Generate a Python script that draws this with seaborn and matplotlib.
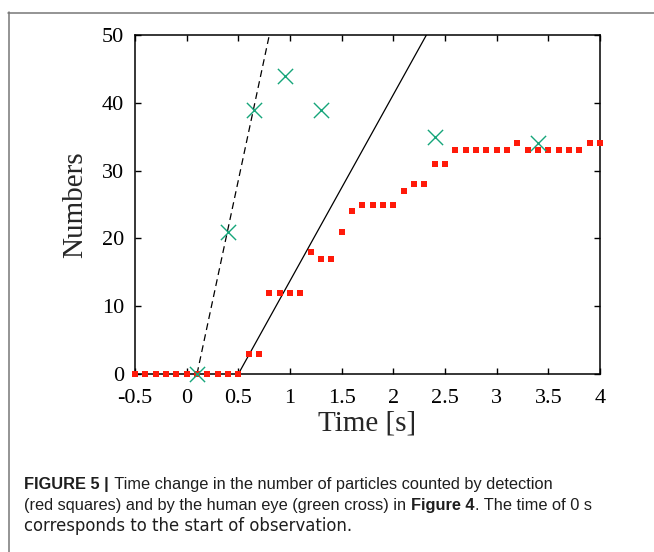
import matplotlib

matplotlib.use("Agg")
import matplotlib.pyplot as plt
import pandas as pd
import seaborn as sns
from matplotlib.lines import Line2D

# detection (red squares), one count every 0.1 s
det_time = [-0.5, -0.4, -0.3, -0.2, -0.1, 0.0, 0.1, 0.2, 0.3, 0.4, 0.5,
            0.6, 0.7, 0.8, 0.9, 1.0, 1.1, 1.2, 1.3, 1.4, 1.5, 1.6, 1.7,
            1.8, 1.9, 2.0, 2.1, 2.2, 2.3, 2.4, 2.5, 2.6, 2.7, 2.8, 2.9,
            3.0, 3.1, 3.2, 3.3, 3.4, 3.5, 3.6, 3.7, 3.8, 3.9, 4.0]
det_count = [0, 0, 0, 0, 0, 0, 0, 0, 0, 0, 0,
             3, 3, 12, 12, 12, 12, 18, 17, 17, 21, 24, 25,
             25, 25, 25, 27, 28, 28, 31, 31, 33, 33, 33, 33,
             33, 33, 34, 33, 33, 33, 33, 33, 33, 34, 34]

# human eye (green crosses)
eye_time = [0.1, 0.4, 0.65, 0.95, 1.3, 2.4, 3.4]
eye_count = [0, 21, 39, 44, 39, 35, 34]

# rise lines (dashed: eye, solid: detection)
eye_fit_time = [0.1, 0.8]
eye_fit_count = [0, 50]
det_fit_time = [0.5, 2.32]
det_fit_count = [0, 50]

x_ticks = [-0.5, 0, 0.5, 1, 1.5, 2, 2.5, 3, 3.5, 4]
x_ticklabels = ["-0.5", "0", "0.5", "1", "1.5", "2", "2.5", "3", "3.5", "4"]
y_ticks = [0, 10, 20, 30, 40, 50]

RED = "#ff1a0a"
GREEN = "#16a57a"

sns.set_theme(style="ticks")
plt.rcParams["font.family"] = ["Liberation Serif", "DejaVu Serif"]

fig = plt.figure(figsize=(6.54, 5.52), dpi=100)
ax = fig.add_axes([135 / 654, 1 - 374 / 552, 465 / 654, 339 / 552])

det = pd.DataFrame({"t": det_time, "n": det_count})
eye = pd.DataFrame({"t": eye_time, "n": eye_count})
eye_fit = pd.DataFrame({"t": eye_fit_time, "n": eye_fit_count})
det_fit = pd.DataFrame({"t": det_fit_time, "n": det_fit_count})

sns.lineplot(data=eye_fit, x="t", y="n", color="black", linewidth=0.9,
             linestyle=(0, (5.5, 3.5)), ax=ax, zorder=2)
sns.lineplot(data=det_fit, x="t", y="n", color="black", linewidth=0.9,
             ax=ax, zorder=2)
sns.scatterplot(data=det, x="t", y="n", marker="s", s=14, color=RED,
                linewidth=0, ax=ax, zorder=4, clip_on=False)
sns.scatterplot(data=eye, x="t", y="n", marker="x", s=120, color=GREEN,
                linewidth=1.0, ax=ax, zorder=5, clip_on=False)

ax.set_xlim(-0.5, 4)
ax.set_ylim(0, 50)
ax.set_xticks(x_ticks)
ax.set_xticklabels(x_ticklabels)
ax.set_yticks(y_ticks)
ax.tick_params(direction="in", top=True, right=True, length=4, width=1,
               labelsize=16, colors="black")
ax.tick_params(axis="x", pad=11)
ax.tick_params(axis="y", pad=8)
for sp in ax.spines.values():
    sp.set_linewidth(1.1)
    sp.set_color("black")
    sp.set_visible(True)
ax.set_xlabel("Time [s]", fontsize=21, labelpad=1.5)
ax.set_ylabel("Numbers", fontsize=21, labelpad=10)

# panel frame (left and top edges)
fig.add_artist(Line2D([8.5 / 654, 8.5 / 654], [1 - 12 / 552, 0],
                      transform=fig.transFigure, color="#777777", lw=1.1))
fig.add_artist(Line2D([8 / 654, 1], [1 - 12.5 / 552, 1 - 12.5 / 552],
                      transform=fig.transFigure, color="#777777", lw=1.1))

# caption with bold parts; the last line is set wider, as in the source
narrow = ["Liberation Sans", "DejaVu Sans"]
wide = ["DejaVu Sans"]
cap_lines = [
    [("FIGURE 5 |", "bold"),
     (" Time change in the number of particles counted by detection", "normal")],
    [("(red squares) and by the human eye (green cross) in ", "normal"),
     ("Figure 4", "bold"), (". The time of 0 s", "normal")],
    [("corresponds to the start of observation.", "normal")],
]
cap_fonts = [(narrow, 11.8), (narrow, 11.8), (wide, 11.9)]
baselines = [489, 510, 531]
fig.canvas.draw()
renderer = fig.canvas.get_renderer()
for parts, (fam, size), yb in zip(cap_lines, cap_fonts, baselines):
    x = 24
    for txt, weight in parts:
        t = fig.text(x / 654, 1 - yb / 552, txt, fontsize=size,
                     fontweight=weight, family=fam, va="baseline",
                     ha="left", color="#1e1e1e")
        x = t.get_window_extent(renderer).x1 + (1 if weight == "bold" else 0)

fig.savefig("out.png", dpi=100)
